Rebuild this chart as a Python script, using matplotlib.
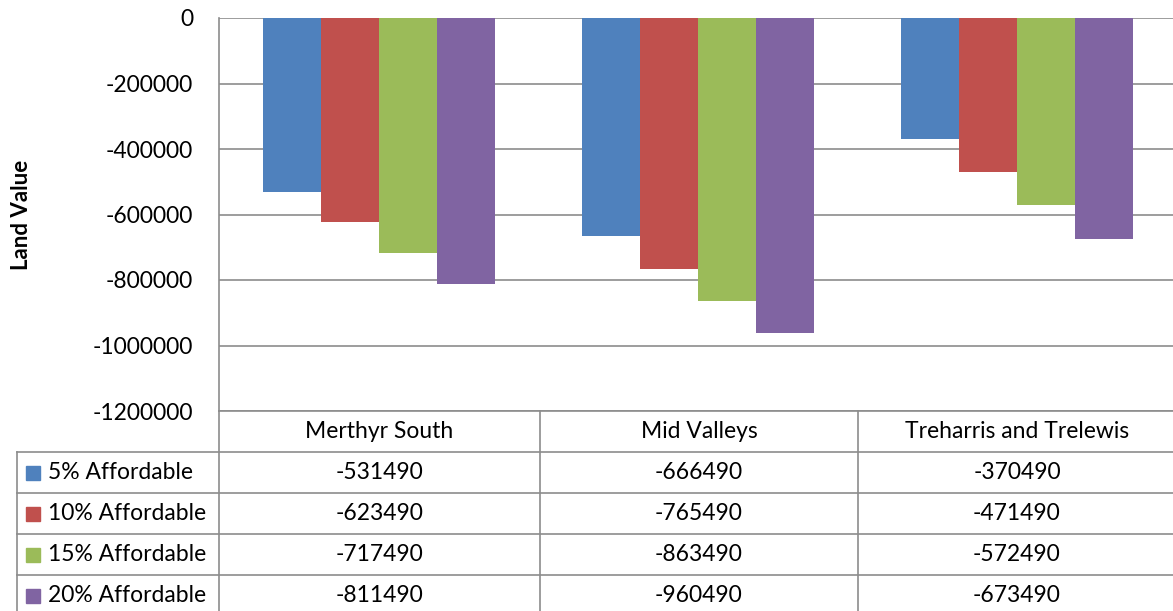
import matplotlib
matplotlib.use("Agg")
import matplotlib.pyplot as plt
from matplotlib.lines import Line2D
from matplotlib.patches import Rectangle
import numpy as np

categories = ["Merthyr South", "Mid Valleys", "Treharris and Trelewis"]
series_names = ["5% Affordable", "10% Affordable", "15% Affordable", "20% Affordable"]
affordable_5 = [-531490, -666490, -370490]
affordable_10 = [-623490, -765490, -471490]
affordable_15 = [-717490, -863490, -572490]
affordable_20 = [-811490, -960490, -673490]
series_values = [affordable_5, affordable_10, affordable_15, affordable_20]
colors = ["#4F81BD", "#C0504D", "#9BBB59", "#8064A2"]
y_ticks = [0, -200000, -400000, -600000, -800000, -1000000, -1200000]

W, H = 1173, 611
plt.rcParams["font.family"] = ["Lato", "DejaVu Sans"]
FS = 16.5
GRID = "#8C8C8C"

fig = plt.figure(figsize=(W / 100, H / 100), dpi=100)


def fx(px):
    return px / W


def fy(py):
    return 1 - py / H


ax_left, ax_right, ax_top, ax_bottom = 219, 1176, 18, 411
ax = fig.add_axes([fx(ax_left), fy(ax_bottom), fx(ax_right - ax_left), (ax_bottom - ax_top) / H])

n = len(series_values)
bar_w = 1 / 5.5
x = np.arange(len(categories))
for i, (vals, c) in enumerate(zip(series_values, colors)):
    ax.bar(x + (i - (n - 1) / 2) * bar_w, vals, width=bar_w, color=c, zorder=3)

ax.set_xlim(-0.5, len(categories) - 0.5)
ax.set_ylim(-1200000, 0)
ax.set_yticks(y_ticks)
ax.set_yticklabels([str(v) for v in y_ticks], fontsize=FS)
ax.yaxis.grid(True, color=GRID, linewidth=1.2, zorder=0)
ax.tick_params(axis="y", length=0, pad=18.5)
ax.set_xticks([])
for s in ["top", "right", "bottom"]:
    ax.spines[s].set_visible(False)
ax.spines["left"].set_color(GRID)
ax.spines["left"].set_linewidth(1.2)
ax.spines["left"].set_zorder(4)
ax.set_ylabel("Land Value", fontsize=FS - 0.5, fontweight="bold", va="center")
ax.yaxis.set_label_coords((22 - ax_left) / (ax_right - ax_left), (411 - 215) / (411 - 18))

# data table below the plot
row_tops = [411, 452, 493, 534, 575]
col_edges = [219, 540, 858, 1176]
row_h = 41


def hline(y, x0, x1):
    fig.add_artist(Line2D([fx(x0), fx(x1)], [fy(y), fy(y)], color=GRID, lw=1.2))


def vline(x0, y0, y1):
    fig.add_artist(Line2D([fx(x0), fx(x0)], [fy(y0), fy(y1)], color=GRID, lw=1.2))


hline(row_tops[0], 219, 1176)
for yy in row_tops[1:]:
    hline(yy, 17, 1176)
vline(17, row_tops[1], H + 2)
for xx in col_edges:
    vline(xx, row_tops[0], H + 2)

for j, cat in enumerate(categories):
    cx = (col_edges[j] + col_edges[j + 1]) / 2
    fig.text(fx(cx), fy(row_tops[0] + row_h / 2), cat, ha="center", va="center", fontsize=FS)

for i, (name, vals, c) in enumerate(zip(series_names, series_values, colors)):
    cy = row_tops[i + 1] + row_h / 2
    fig.add_artist(Rectangle((fx(26), fy(cy + 7)), fx(14), 14 / H, color=c))
    fig.text(fx(48), fy(cy), name, ha="left", va="center", fontsize=FS)
    for j, v in enumerate(vals):
        cx = (col_edges[j] + col_edges[j + 1]) / 2
        fig.text(fx(cx), fy(cy), str(v), ha="center", va="center", fontsize=FS)

fig.savefig("out.png", dpi=100)
